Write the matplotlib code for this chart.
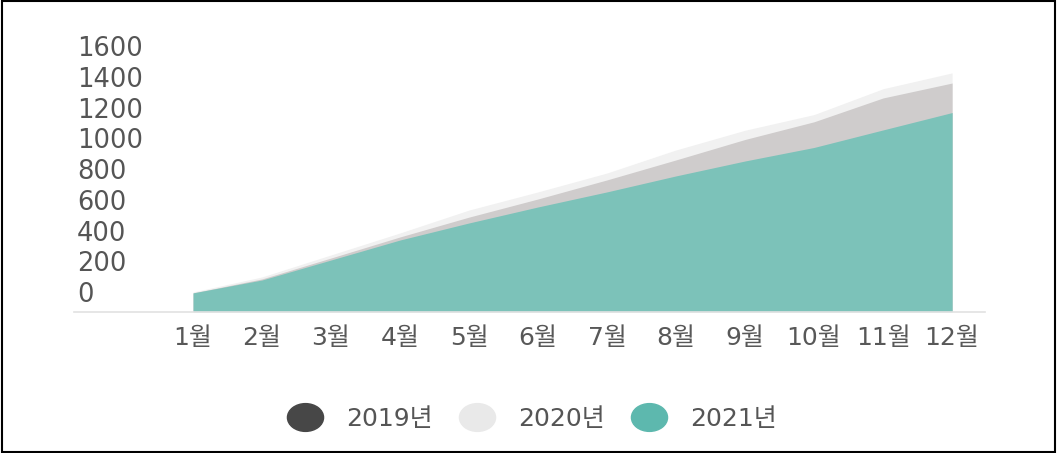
import matplotlib
matplotlib.use('Agg')
import matplotlib.pyplot as plt
import matplotlib.transforms as mtrans
from matplotlib.lines import Line2D
from matplotlib.markers import MarkerStyle
from matplotlib.patches import Rectangle

plt.rcParams['font.family'] = ['DejaVu Sans', 'Noto Sans CJK KR']

# monthly cumulative totals per year
months = [1, 2, 3, 4, 5, 6, 7, 8, 9, 10, 11, 12]
month_labels = ['1월', '2월', '3월', '4월', '5월', '6월', '7월', '8월', '9월', '10월', '11월', '12월']
y2019 = [122, 213, 349, 486, 615, 733, 857, 987, 1120, 1235, 1390, 1487]
y2020 = [128, 226, 369, 512, 661, 779, 902, 1052, 1180, 1282, 1450, 1553]
y2021 = [122, 206, 336, 466, 577, 681, 779, 883, 980, 1068, 1182, 1295]
yticks = [0, 200, 400, 600, 800, 1000, 1200, 1400, 1600]
years = ['2019년', '2020년', '2021년']

c2019_area = '#cfcccc'
c2020_area = '#f1f1f1'
c2021_area = '#7cc2b9'
c2019_dot = '#474747'
c2020_dot = '#e9e9e9'
c2021_dot = '#5db8ae'

fig = plt.figure(figsize=(10.57, 4.53), dpi=100)
ax = fig.add_axes([0.070, 0.312, 0.862, 0.594])

ax.fill_between(months, y2020, 0, color=c2020_area, linewidth=0)
ax.fill_between(months, y2019, 0, color=c2019_area, linewidth=0)
ax.fill_between(months, y2021, 0, color=c2021_area, linewidth=0)

ax.set_xlim(-0.725, 12.478)
ax.set_ylim(0, 1750)

for s in ['top', 'right', 'left']:
    ax.spines[s].set_visible(False)
ax.spines['bottom'].set_color('#e2e2e2')
ax.spines['bottom'].set_linewidth(1.2)

ax.set_xticks(months)
ax.set_xticklabels(month_labels, fontsize=18, color='#585858')
ax.tick_params(axis='x', length=0, pad=10)

ax.set_yticks(yticks)
ax.set_yticklabels([str(v) for v in yticks], fontsize=18.5, color='#555555')
ax.tick_params(axis='y', length=0, pad=-2.2)
shift = mtrans.ScaledTranslation(0, 19.5 / 100, fig.dpi_scale_trans)
for lab in ax.get_yticklabels():
    lab.set_horizontalalignment('left')
    lab.set_transform(lab.get_transform() + shift)

# slightly wide oval dots for the legend
oval = MarkerStyle('o', transform=mtrans.Affine2D().scale(1.3, 1.0))
handles = [Line2D([], [], marker=oval, linestyle='', markersize=20, color=c)
           for c in (c2019_dot, c2020_dot, c2021_dot)]
fig.legend(handles, years, ncol=3, loc='center',
           bbox_to_anchor=(0.503, 0.075), frameon=False, fontsize=18,
           labelcolor='#555555', handlelength=1.5, handletextpad=0.9,
           columnspacing=1.0)

# outer frame
fig.patches.append(Rectangle((0.0015, 0.003), 0.997, 0.994, transform=fig.transFigure,
                             fill=False, edgecolor='black', linewidth=1.5))

fig.savefig('out.png', dpi=100)
